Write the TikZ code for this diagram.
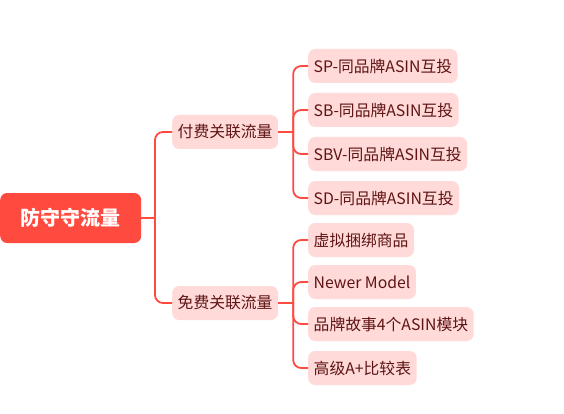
\documentclass[tikz,border=0pt]{standalone}
\usepackage{fontspec}
\newfontfamily\cjk{Noto Sans CJK SC}
\usetikzlibrary{calc}
\definecolor{rootred}{HTML}{FF4A3F}
\definecolor{leafpink}{HTML}{FFDAD8}
\definecolor{leaftext}{HTML}{5E1414}

\begin{document}
\begin{tikzpicture}[x=1pt,y=1pt,
		link/.style={draw=rootred, line width=1.8pt},
		root/.style={fill=rootred, text=white, rounded corners=7pt, minimum width=141pt, minimum height=50pt, inner sep=0pt, font=\cjk\fontsize{20}{23}\selectfont\bfseries, anchor=west},
		leaf/.style={fill=leafpink, text=leaftext, rounded corners=7pt, minimum height=34pt, inner xsep=5.5pt, inner ysep=0pt, font=\cjk\fontsize{15.8}{18}\selectfont, anchor=west}]
				\useasboundingbox (0,0) rectangle (564,-414);
				
				\node[root] (defend) at (0,-218) {防守守流量};
				\node[leaf] (paid) at (172,-132) {付费关联流量};
				\node[leaf] (free) at (172,-303) {免费关联流量};
				
				\node[leaf] (sp) at (308,-66) {SP-同品牌ASIN互投};
				\node[leaf] (sb) at (308,-110) {SB-同品牌ASIN互投};
				\node[leaf] (sbv) at (308,-154) {SBV-同品牌ASIN互投};
				\node[leaf] (sd) at (308,-198) {SD-同品牌ASIN互投};
				
				\node[leaf] (bundle) at (308,-240) {虚拟捆绑商品};
				\node[leaf] (newer) at (308,-282) {Newer Model};
				\node[leaf] (story) at (308,-324) {品牌故事4个ASIN模块};
				\node[leaf] (compare) at (308,-368) {高级A+比较表};
				
				\coordinate (j0) at (155,-218);
				\coordinate (j1) at ($(paid.east)+(15,0)$);
				\coordinate (j2) at ($(free.east)+(15,0)$);
				
				\draw[link] (defend.east) -- (j0);
				\draw[link, rounded corners=8pt] (j0) |- (paid.west);
				\draw[link, rounded corners=8pt] (j0) |- (free.west);
				
				\draw[link] (paid.east) -- (j1);
				\foreach \n in {sp,sb,sbv,sd}
					\draw[link, rounded corners=8pt] (j1) |- (\n.west);
				
				\draw[link] (free.east) -- (j2);
				\foreach \n in {bundle,newer,story,compare}
					\draw[link, rounded corners=8pt] (j2) |- (\n.west);
			\end{tikzpicture}
\end{document}
